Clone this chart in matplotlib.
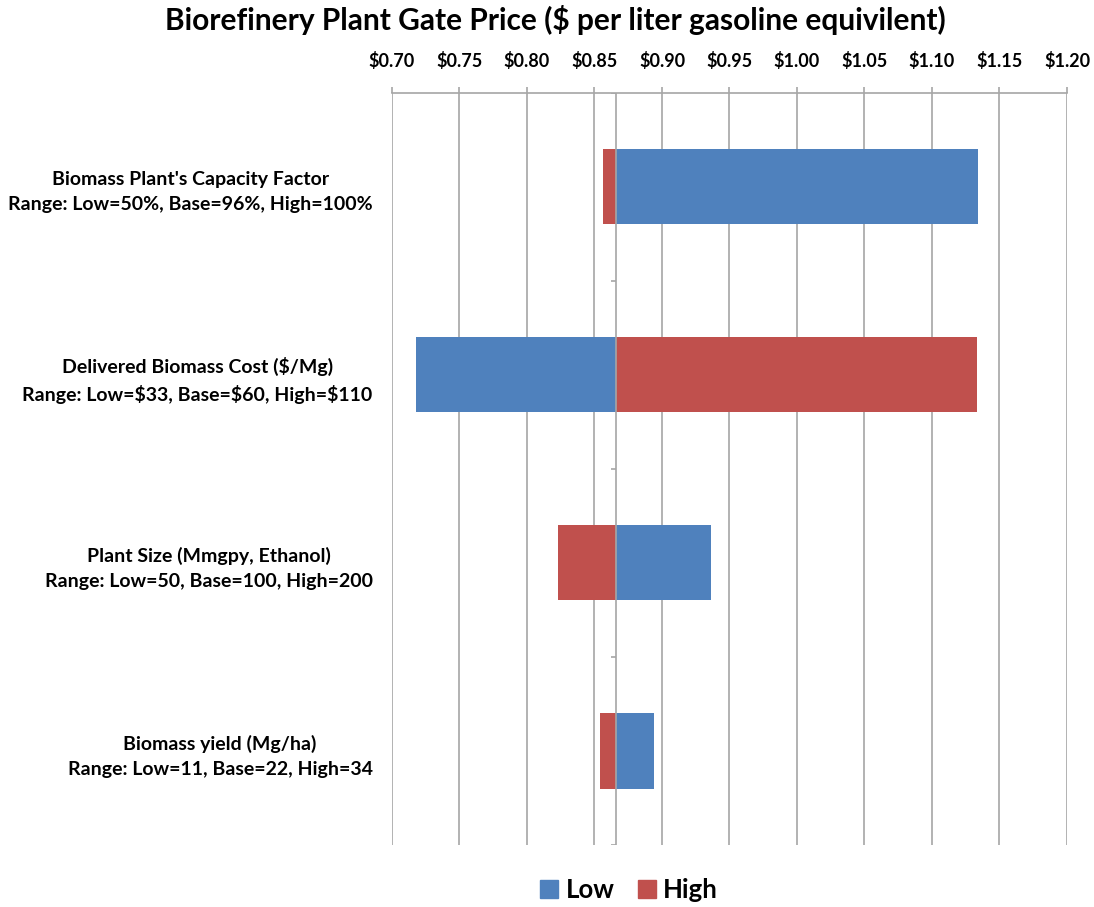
import matplotlib
matplotlib.use('Agg')
import matplotlib.pyplot as plt
import matplotlib.transforms as mtransforms
import numpy as np
from matplotlib.patches import Patch

plt.rcParams['font.family'] = ['Lato', 'DejaVu Sans']
plt.rcParams['font.weight'] = 'bold'

categories = [
    "Biomass Plant's Capacity Factor\nRange: Low=50%, Base=96%, High=100%",
    "Delivered Biomass Cost ($/Mg)\nRange: Low=$33, Base=$60, High=$110",
    "Plant Size (Mmgpy, Ethanol)\nRange: Low=50, Base=100, High=200",
    "Biomass yield (Mg/ha)\nRange: Low=11, Base=22, High=34",
]
base_price = 0.866
low_price = [1.134, 0.718, 0.936, 0.894]
high_price = [0.856, 1.133, 0.823, 0.854]
xticks = [0.70, 0.75, 0.80, 0.85, 0.90, 0.95, 1.00, 1.05, 1.10, 1.15, 1.20]

blue = '#4F81BD'
red = '#C0504D'
grid = '#A6A6A6'

fig = plt.figure(figsize=(10.94, 9.07), dpi=100)
ax = fig.add_axes([0.3583, 0.0684, 0.617, 0.8294])

y = np.arange(len(categories))
low = np.array(low_price)
high = np.array(high_price)

ax.barh(y, low - base_price, left=base_price, height=0.4, color=blue, zorder=3)
ax.barh(y, high - base_price, left=base_price, height=0.4, color=red, zorder=3)

# vertical gridlines and the base axis line
for xv in xticks:
    ax.axvline(xv, color=grid, lw=1.2, zorder=1)
ax.axvline(base_price, color=grid, lw=1.2, zorder=4)
bounds = np.arange(len(categories) + 1) - 0.5
ax.hlines(bounds, base_price - 0.004, base_price, color=grid, lw=1.2, zorder=4)

ax.set_xlim(0.70, 1.20)
ax.set_ylim(len(categories) - 0.5, -0.5)

ax.xaxis.tick_top()
ax.set_xticks(xticks)
ax.set_xticklabels(['$%.2f' % v for v in xticks], fontsize=13, fontweight='bold')
ax.tick_params(axis='x', length=4, color=grid, width=1.2, pad=12)

ax.set_yticks(y)
ax.set_yticklabels(categories, fontsize=14, fontweight='bold', linespacing=1.55)
shift = mtransforms.ScaledTranslation(0, 3 / 100, fig.dpi_scale_trans)
for lbl in ax.get_yticklabels():
    lbl.set_multialignment('center')
    lbl.set_transform(lbl.get_transform() + shift)
ax.tick_params(axis='y', length=0, pad=14)

for side in ['left', 'right', 'bottom']:
    ax.spines[side].set_visible(False)
ax.spines['top'].set_color(grid)
ax.spines['top'].set_linewidth(1.2)

fig.suptitle('Biorefinery Plant Gate Price ($ per liter gasoline equivilent)',
             x=0.508, y=0.995, fontsize=21.5, fontweight='bold', va='top')

handles = [Patch(color=blue, label='Low'), Patch(color=red, label='High')]
fig.legend(handles=handles, loc='center', bbox_to_anchor=(0.575, 0.019), ncol=2,
           frameon=False, prop={'size': 18.5, 'weight': 'bold'},
           handlelength=0.7, handleheight=0.7, handletextpad=0.3, columnspacing=0.9)

fig.savefig('out.png', dpi=100)
